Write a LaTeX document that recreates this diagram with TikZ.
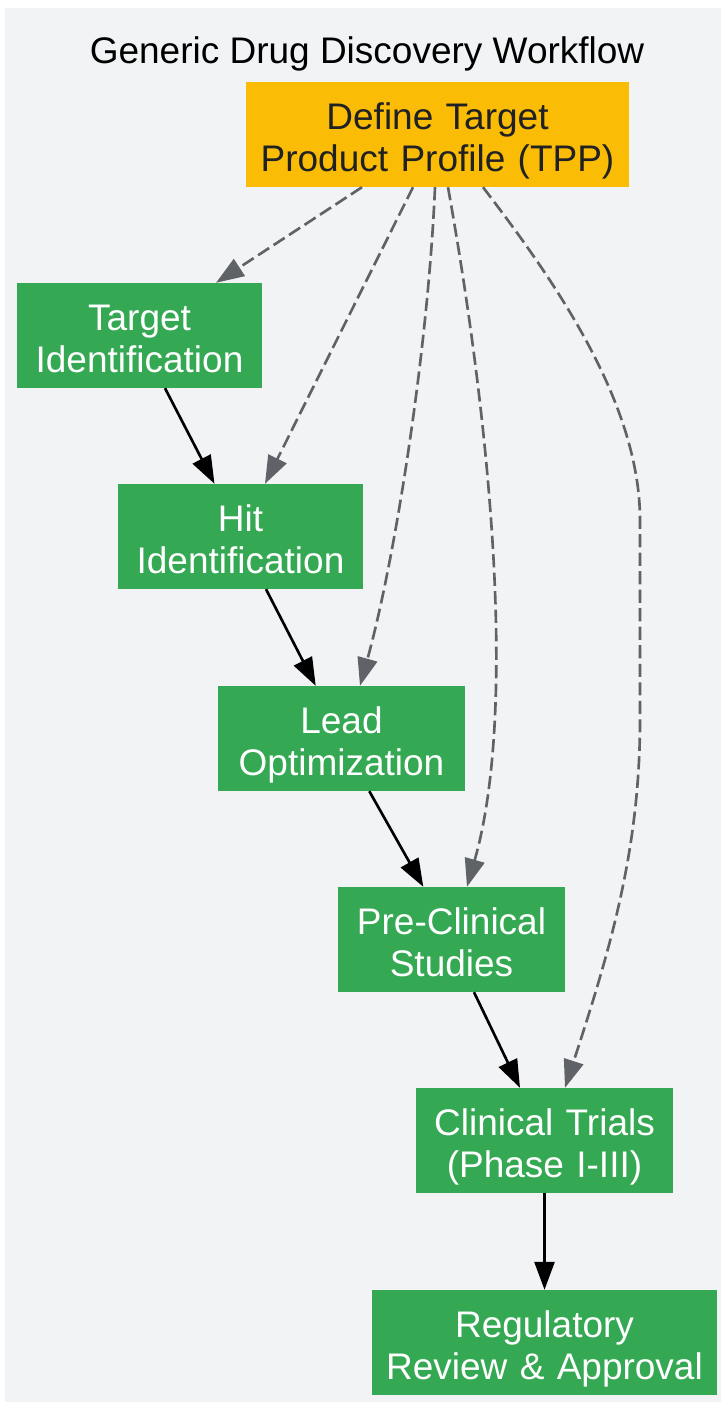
\documentclass[tikz,border=0pt]{standalone}
\usepackage{fontspec}
\setmainfont{Liberation Sans}
\usetikzlibrary{arrows.meta,calc}
\definecolor{bggray}{HTML}{F1F3F4}
\definecolor{ggreen}{HTML}{34A853}
\definecolor{gyellow}{HTML}{FBBC05}
\definecolor{edgegray}{HTML}{5F6368}
\definecolor{darktext}{HTML}{202124}
\begin{document}
\begin{tikzpicture}[x=1pt,y=-1pt,
  box/.style={rectangle, draw=none, inner sep=0pt, minimum height=105pt,
    text height=31.5pt, text depth=41.5pt, align=center,
    font=\fontsize{37}{42}\selectfont},
  greenbox/.style={box, fill=ggreen, text=white},
  tppbox/.style={box, fill=gyellow, text=darktext},
  flow/.style={line width=2.64pt, draw=black, -{Triangle[length=28pt,width=20pt]}},
  link/.style={line width=2.64pt, draw=edgegray, dash pattern=on 13.2pt off 5.3pt,
    -{Triangle[length=28pt,width=20pt,fill=edgegray]}},
]
\useasboundingbox (0,0) rectangle (721,1402);
\fill[bggray] (5,8) rectangle (721,1402);
\node[anchor=base, inner sep=0pt, font=\fontsize{37}{42}\selectfont, text=black] (title) at (367,64) {Generic Drug Discovery Workflow};
\node[tppbox, text width=383pt] (tpp) at (437.5,134.5) {Define Target\\Product Profile (TPP)};
\node[greenbox, text width=245pt] (tgt) at (139.5,335.5) {Target\\Identification};
\node[greenbox, text width=245pt] (hit) at (240.5,536.5) {Hit\\Identification};
\node[greenbox, text width=247pt] (lead) at (341.5,738.5) {Lead\\Optimization};
\node[greenbox, text width=227pt] (pre) at (451.5,939.5) {Pre-Clinical\\Studies};
\node[greenbox, text width=257pt] (clin) at (544.5,1140.5) {Clinical Trials\\(Phase I-III)};
\node[greenbox, text width=345pt] (reg) at (544.5,1342.5) {Regulatory\\Review \& Approval};
% solid flow
\draw[flow] ([xshift=25.5pt]tgt.south) -- ([xshift=-26pt]hit.north);
\draw[flow] ([xshift=25.5pt]hit.south) -- ([xshift=-25.8pt]lead.north);
\draw[flow] ([xshift=27.8pt]lead.south) -- ([xshift=-28.2pt]pre.north);
\draw[flow] ([xshift=22.5pt]pre.south) -- ([xshift=-24.5pt]clin.north);
\draw[flow] (clin.south) -- (reg.north);
% dashed links
\draw[link] ([xshift=-75.5pt]tpp.south) -- ([xshift=76.5pt]tgt.north);
\draw[link] ([xshift=-24.5pt]tpp.south) -- ([xshift=24.5pt]hit.north);
\draw[link] ([xshift=-2.5pt]tpp.south) .. controls (428,350) and (395,560) .. ([xshift=18.5pt]lead.north);
\draw[link] ([xshift=10.5pt]tpp.south) .. controls (495,450) and (515,720) .. ([xshift=15.5pt]pre.north);
\draw[link] ([xshift=45.5pt]tpp.south) .. controls (550,275) and (640,400) .. (640,520)
  -- (640,720) .. controls (640,850) and (610,950) .. ([xshift=20.5pt]clin.north);
\end{tikzpicture}
\end{document}
